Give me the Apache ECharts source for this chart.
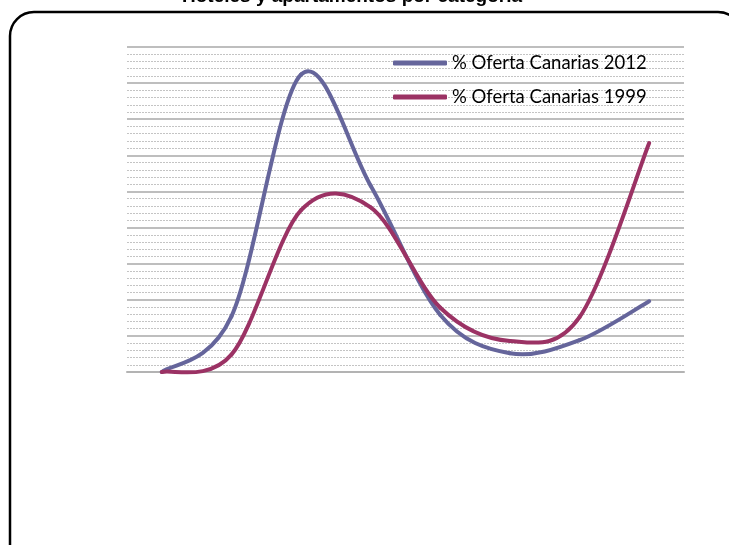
<!DOCTYPE html>
<html>
<head>
<meta charset="utf-8">
<script src="https://cdn.jsdelivr.net/npm/echarts@6/dist/echarts.min.js"></script>
<style>
  html, body { margin: 0; padding: 0; background: #fff; }
  #chart { width: 729px; height: 545px; }
</style>
</head>
<body>
<div id="chart"></div>
<script>
// Categories along the x axis (labels are not shown on the axis)
const categories = ['1', '2', '3', '4', '5', '6', '7', '8'];

// Share of supply per category
const oferta2012 = [0, 7.7, 41.2, 25.8, 7.9, 2.6, 4.4, 9.8];
const oferta1999 = [0, 2.4, 22.4, 22.8, 8.9, 4.3, 7.6, 31.7];

const seriesNames = ['% Oferta Canarias 2012', '% Oferta Canarias 1999'];
const seriesColors = ['#65659b', '#9b3264'];
const titleText = 'Hoteles y apartamentos por categoría';

// Smoothed line: one cubic Bezier per segment, control points from the
// neighbouring points (Catmull-Rom style), positioned through the axes.
function smoothLine(values, color) {
  const n = values.length;
  return function (params, api) {
    const i = params.dataIndex;
    if (i >= n - 1) return null;
    const P = (j) => {
      const k = Math.max(0, Math.min(n - 1, j));
      return api.coord([k, values[k]]);
    };
    const p0 = P(i - 1), p1 = P(i), p2 = P(i + 1), p3 = P(i + 2);
    const t = 1 / 6;
    return {
      type: 'bezierCurve',
      shape: {
        x1: p1[0], y1: p1[1],
        x2: p2[0], y2: p2[1],
        cpx1: p1[0] + (p2[0] - p0[0]) * t,
        cpy1: p1[1] + (p2[1] - p0[1]) * t,
        cpx2: p2[0] - (p3[0] - p1[0]) * t,
        cpy2: p2[1] - (p3[1] - p1[1]) * t
      },
      style: { stroke: color, lineWidth: 4, fill: null, lineCap: 'round' }
    };
  };
}

function lineSeries(name, values, color, z) {
  return {
    name: name,
    type: 'custom',
    data: values.map((v, i) => [i, v]),
    encode: { x: 0, y: 1 },
    renderItem: smoothLine(values, color),
    itemStyle: { color: color },
    clip: false,
    z: z
  };
}

const chart = echarts.init(document.getElementById('chart'), null, { renderer: 'canvas' });

chart.setOption({
  backgroundColor: '#ffffff',
  animation: false,
  graphic: [
    {
      type: 'rect',
      shape: { x: 10, y: 12, width: 732, height: 560, r: 24 },
      style: { fill: 'none', stroke: '#000', lineWidth: 2.5 },
      z: 0
    },
    {
      type: 'text',
      x: 352,
      y: 6,
      style: {
        text: titleText,
        font: 'bold 19px "Liberation Sans", Arial, sans-serif',
        fill: '#000',
        textAlign: 'center',
        textVerticalAlign: 'bottom'
      }
    }
  ],
  grid: { left: 127, right: 45, top: 47, bottom: 173 },
  legend: {
    orient: 'vertical',
    left: 393,
    top: 53,
    padding: 0,
    itemWidth: 54,
    itemHeight: 5,
    itemGap: 14,
    icon: 'roundRect',
    textStyle: {
      fontFamily: 'Lato, "Open Sans", sans-serif',
      fontSize: 18.5,
      color: '#000',
      lineHeight: 20
    },
    data: seriesNames
  },
  xAxis: {
    type: 'category',
    data: categories,
    boundaryGap: true,
    axisLine: { show: true, lineStyle: { color: '#b3b3b3', width: 2 } },
    axisTick: { show: false },
    axisLabel: { show: false },
    splitLine: { show: false }
  },
  yAxis: {
    type: 'value',
    min: 0,
    max: 45,
    interval: 5,
    axisLine: { show: false },
    axisTick: { show: false },
    axisLabel: { show: false },
    splitLine: { show: true, lineStyle: { color: '#a8a8a8', width: 1.5 } },
    minorTick: { show: false, splitNumber: 5 },
    minorSplitLine: { show: true, lineStyle: { color: '#c4c4c4', width: 1, type: [2, 1] } }
  },
  series: [
    lineSeries(seriesNames[0], oferta2012, seriesColors[0], 3),
    lineSeries(seriesNames[1], oferta1999, seriesColors[1], 4)
  ]
});
</script>
</body>
</html>
